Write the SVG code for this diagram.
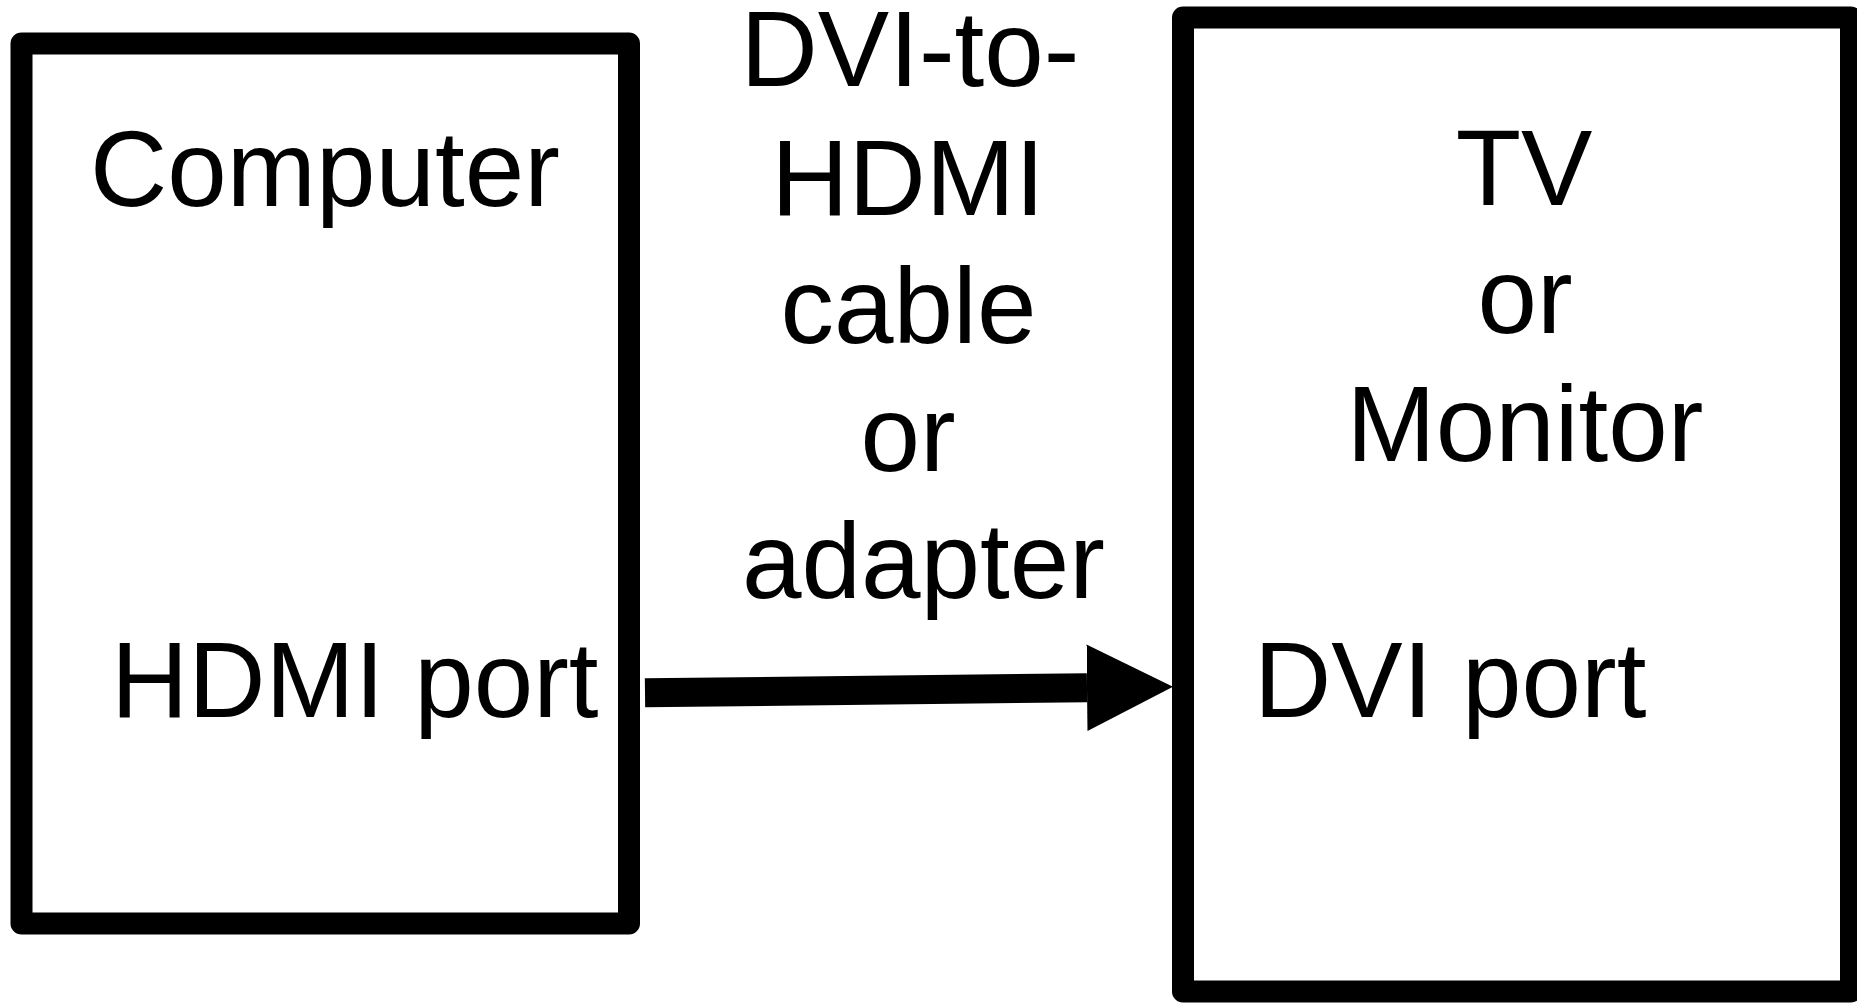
<svg xmlns="http://www.w3.org/2000/svg" width="1857" height="1004" viewBox="0 0 1857 1004">
<style>
.box{fill:#fff;stroke:#000;stroke-width:22;stroke-linejoin:round}
.t{font-family:"Liberation Sans",Arial,sans-serif;font-size:107px;fill:#000;text-anchor:middle}
.s{text-anchor:start}
.conn{stroke:#000;stroke-width:29;fill:none}
</style>
<defs>
<marker id="head" markerUnits="userSpaceOnUse" markerWidth="90" markerHeight="90" viewBox="0 -45 90 90" refX="0" refY="0" orient="auto">
<path d="M0,-43.2 L86,0 L0,43.2 Z" fill="#000"/>
</marker>
</defs>
<rect width="1857" height="1004" fill="#fff"/>
<g id="computer">
<rect class="box" x="21.5" y="43.5" width="607.5" height="880"/>
<text class="t" x="325" y="206">Computer</text>
<text class="t s" x="111" y="717">HDMI port</text>
</g>
<g id="tv-monitor">
<rect class="box" x="1183" y="17.5" width="668" height="974"/>
<text class="t" x="1524" y="204.5">TV</text>
<text class="t" x="1525" y="332.5">or</text>
<text class="t" x="1525" y="461">Monitor</text>
<text class="t s" x="1254" y="717">DVI port</text>
</g>
<g id="cable-label">
<text class="t" x="910" y="86">DVI-to-</text>
<text class="t" x="908" y="214.5">HDMI</text>
<text class="t" x="908.5" y="342.5">cable</text>
<text class="t" x="908" y="470.7">or</text>
<text class="t" x="923.5" y="598.3">adapter</text>
</g>
<g id="connectors">
<line class="conn" x1="645" y1="692.8" x2="1087" y2="687.7" marker-end="url(#head)"/>
</g>
</svg>
